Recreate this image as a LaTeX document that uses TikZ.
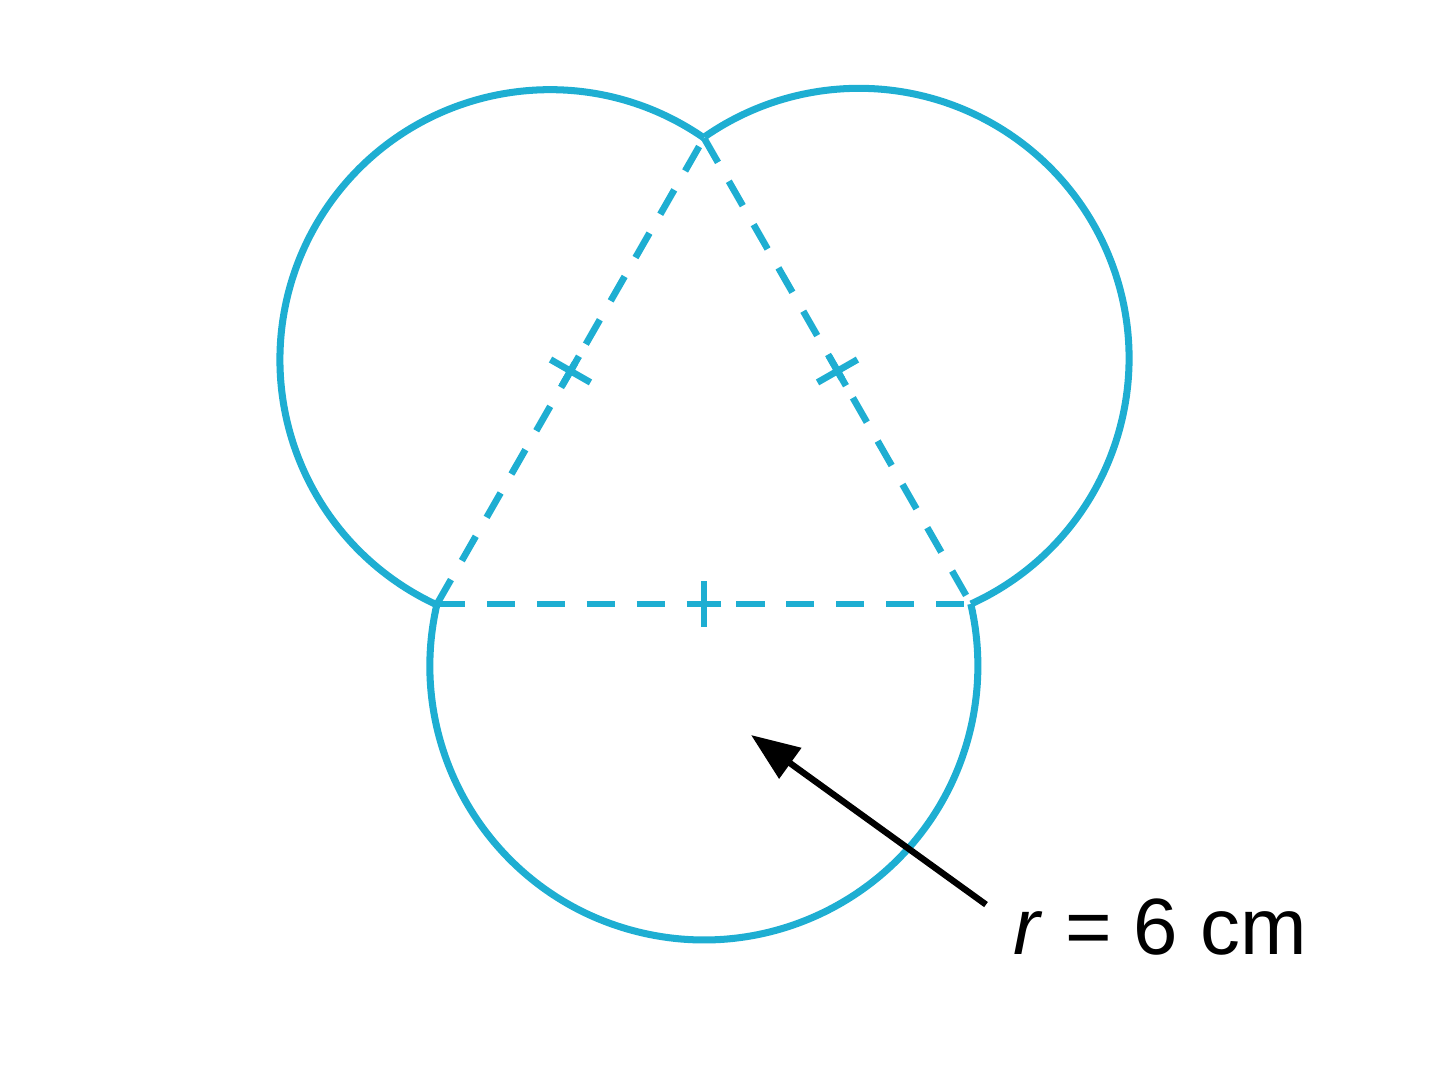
\documentclass[tikz,border=0pt]{standalone}
\usepackage{fontspec}
\setmainfont{Liberation Sans}
\usetikzlibrary{calc,arrows.meta}

\definecolor{rimblue}{RGB}{30,174,210}

\begin{document}
\begin{tikzpicture}[
  rim/.style={rimblue, line width=2pt},
  side/.style={rimblue, line width=1.9pt, dash pattern=on 8pt off 6.2pt},
  tick/.style={rimblue, line width=1.9pt},
  pointer/.style={black, line width=1.8pt, -{Triangle[length=13.8pt,width=10.4pt]}}
]
\useasboundingbox (0,0) rectangle (14.48,10.86);
% triangle corners
\coordinate (bl) at (4.37,4.82);
\coordinate (br) at (9.71,4.82);
\coordinate (t) at (7.04,9.48);
\draw [side] (bl) -- (br);
\draw [side] (bl) -- (t);
\draw [side] (t) -- (br);
% equal-side marks
\foreach \a/\b in {bl/t, t/br, br/bl} {
  \coordinate (m) at ($(\a)!0.5!(\b)$);
  \draw [tick] ($(m)!0.23cm!90:(\b)$) -- ($(m)!0.23cm!-90:(\b)$);
  \draw [tick] ($(m)!0.17cm!(\a)$) -- ($(m)!0.17cm!(\b)$);
}
% the three circles
\draw [rim] (t) arc (55.2:245.5:2.70);
\draw [rim] (br) arc (-65.5:124.8:2.70);
\draw [rim] (bl) arc (166.93:373.07:2.74);
% radius label
\node (lbl) [anchor=base west, inner sep=0pt, font=\fontsize{22.7}{27}\selectfont] at (10.13,1.31) {\textit{r} = 6 cm};
\coordinate (tip) at (7.51,3.51);
\draw [pointer] ([xshift=-2.7mm,yshift=-0.6mm]lbl.north west) -- (tip);
\end{tikzpicture}
\end{document}
